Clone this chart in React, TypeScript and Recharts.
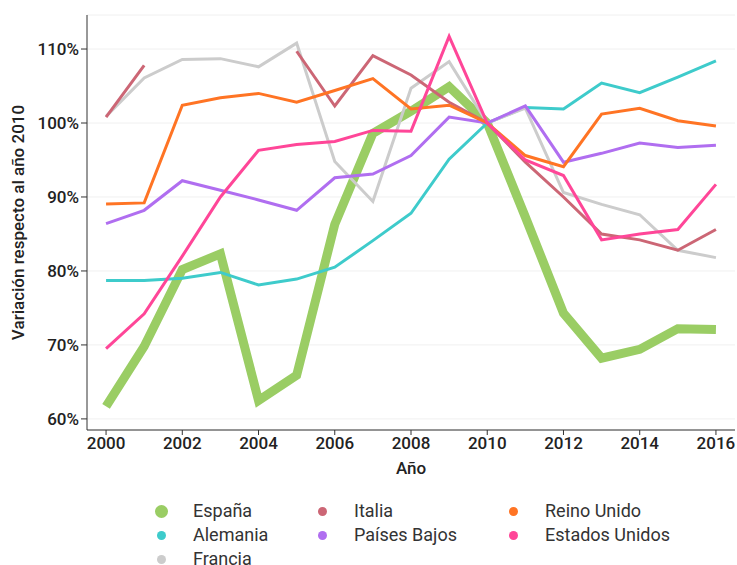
import React from 'react';
import { LineChart, Line, XAxis, YAxis, CartesianGrid } from 'recharts';

// Años y variación (%) respecto a 2010
const years = [2000, 2001, 2002, 2003, 2004, 2005, 2006, 2007, 2008, 2009, 2010, 2011, 2012, 2013, 2014, 2015, 2016];
const espana = [61.7, 69.8, 80.2, 82.3, 62.5, 65.9, 86.3, 98.6, 101.6, 104.9, 100, 87.3, 74.3, 68.2, 69.4, 72.2, 72.1];
const alemania = [78.7, 78.7, 79.0, 79.8, 78.1, 78.9, 80.5, 84.1, 87.8, 95.1, 100, 102.1, 101.9, 105.4, 104.1, 106.2, 108.4];
const francia = [100.9, 106.1, 108.6, 108.7, 107.6, 110.8, 94.8, 89.4, 104.7, 108.3, 100, 102.0, 90.6, 89.0, 87.6, 82.8, 81.8];
const italia = [100.8, 107.8, null, null, null, 109.7, 102.3, 109.1, 106.5, 102.8, 100, 94.7, 90.0, 85.0, 84.2, 82.8, 85.6];
const paisesBajos = [86.4, 88.2, 92.2, 90.9, 89.6, 88.2, 92.6, 93.1, 95.6, 100.8, 100, 102.3, 94.7, 95.9, 97.3, 96.7, 97.0];
const reinoUnido = [89.05, 89.2, 102.4, 103.4, 104.0, 102.8, 104.4, 106.0, 101.9, 102.4, 100, 95.6, 94.1, 101.2, 102.0, 100.3, 99.6];
const estadosUnidos = [69.5, 74.2, 82.0, 90.0, 96.3, 97.1, 97.5, 99.0, 98.9, 111.7, 100, 95.0, 92.9, 84.2, 85.0, 85.6, 91.7];

const yTicks = [60, 70, 80, 90, 100, 110];

// orden del dibujo: España al fondo
const series = [
  { key: 'espana', name: 'España', values: espana, color: '#9acd64', width: 9 },
  { key: 'alemania', name: 'Alemania', values: alemania, color: '#3ecbcb', width: 3 },
  { key: 'francia', name: 'Francia', values: francia, color: '#cccccc', width: 3 },
  { key: 'italia', name: 'Italia', values: italia, color: '#cc6675', width: 3 },
  { key: 'paisesBajos', name: 'Países Bajos', values: paisesBajos, color: '#b06ef0', width: 3 },
  { key: 'reinoUnido', name: 'Reino Unido', values: reinoUnido, color: '#ff7424', width: 3 },
  { key: 'estadosUnidos', name: 'Estados Unidos', values: estadosUnidos, color: '#ff4698', width: 3 },
];

const legendOrder = ['espana', 'italia', 'reinoUnido', 'alemania', 'paisesBajos', 'estadosUnidos', 'francia'];

const data = years.map((year, i) => {
  const row: Record<string, number | null> = { year };
  series.forEach(s => { row[s.key] = s.values[i]; });
  return row;
});

const font = 'Roboto, sans-serif';

function LegendBox() {
  const colX = [161, 322, 513];
  const rowY = [511, 535, 559];
  return (
    <>
      {legendOrder.map((k, i) => {
        const s = series.find(x => x.key === k)!;
        const d = s.width > 3 ? 13 : 9;
        const cx = colX[i % 3];
        const cy = rowY[Math.floor(i / 3)];
        return (
          <div key={k}>
            <div style={{ position: 'absolute', left: cx - d / 2, top: cy - d / 2, width: d, height: d, borderRadius: '50%', background: s.color }} />
            <div style={{ position: 'absolute', left: cx + 32, top: cy - 12, lineHeight: '24px', fontSize: 18, fontFamily: font, color: '#333', whiteSpace: 'nowrap' }}>{s.name}</div>
          </div>
        );
      })}
    </>
  );
}

export default function App() {
  return (
    <div style={{ position: 'absolute', left: 0, top: 0, width: 737, height: 565, background: '#fff', overflow: 'hidden' }}>
      <LineChart width={737} height={480} data={data} margin={{ top: 15, right: 2, bottom: 0, left: 0 }}>
        <CartesianGrid vertical={false} stroke="#f0f0f0" />
        <XAxis
          dataKey="year"
          type="number"
          domain={[1999.5, 2016.5]}
          ticks={[2000, 2002, 2004, 2006, 2008, 2010, 2012, 2014, 2016]}
          height={50}
          tickSize={5}
          stroke="#333"
          tick={{ fontSize: 17, fontFamily: font, fill: '#222', fontWeight: 500 }}
          label={{ value: 'Año', position: 'insideBottom', offset: 6, style: { fontSize: 17, fontFamily: font, fill: '#222', fontWeight: 500 } }}
        />
        <YAxis
          type="number"
          domain={[58.5, 114.6]}
          ticks={yTicks}
          width={87}
          tickSize={6}
          stroke="#333"
          tickFormatter={v => `${v}%`}
          tick={{ fontSize: 17, fontFamily: font, fill: '#222', fontWeight: 500 }}
          label={{ value: 'Variación respecto al año 2010', angle: -90, position: 'insideLeft', offset: 18, style: { textAnchor: 'middle', fontSize: 17, fontFamily: font, fill: '#222', fontWeight: 500 } }}
        />
        {series.map(s => (
          <Line
            key={s.key}
            dataKey={s.key}
            name={s.name}
            stroke={s.color}
            strokeWidth={s.width}
            dot={false}
            activeDot={false}
            type="linear"
            isAnimationActive={false}
          />
        ))}
      </LineChart>
      <LegendBox />
    </div>
  );
}
